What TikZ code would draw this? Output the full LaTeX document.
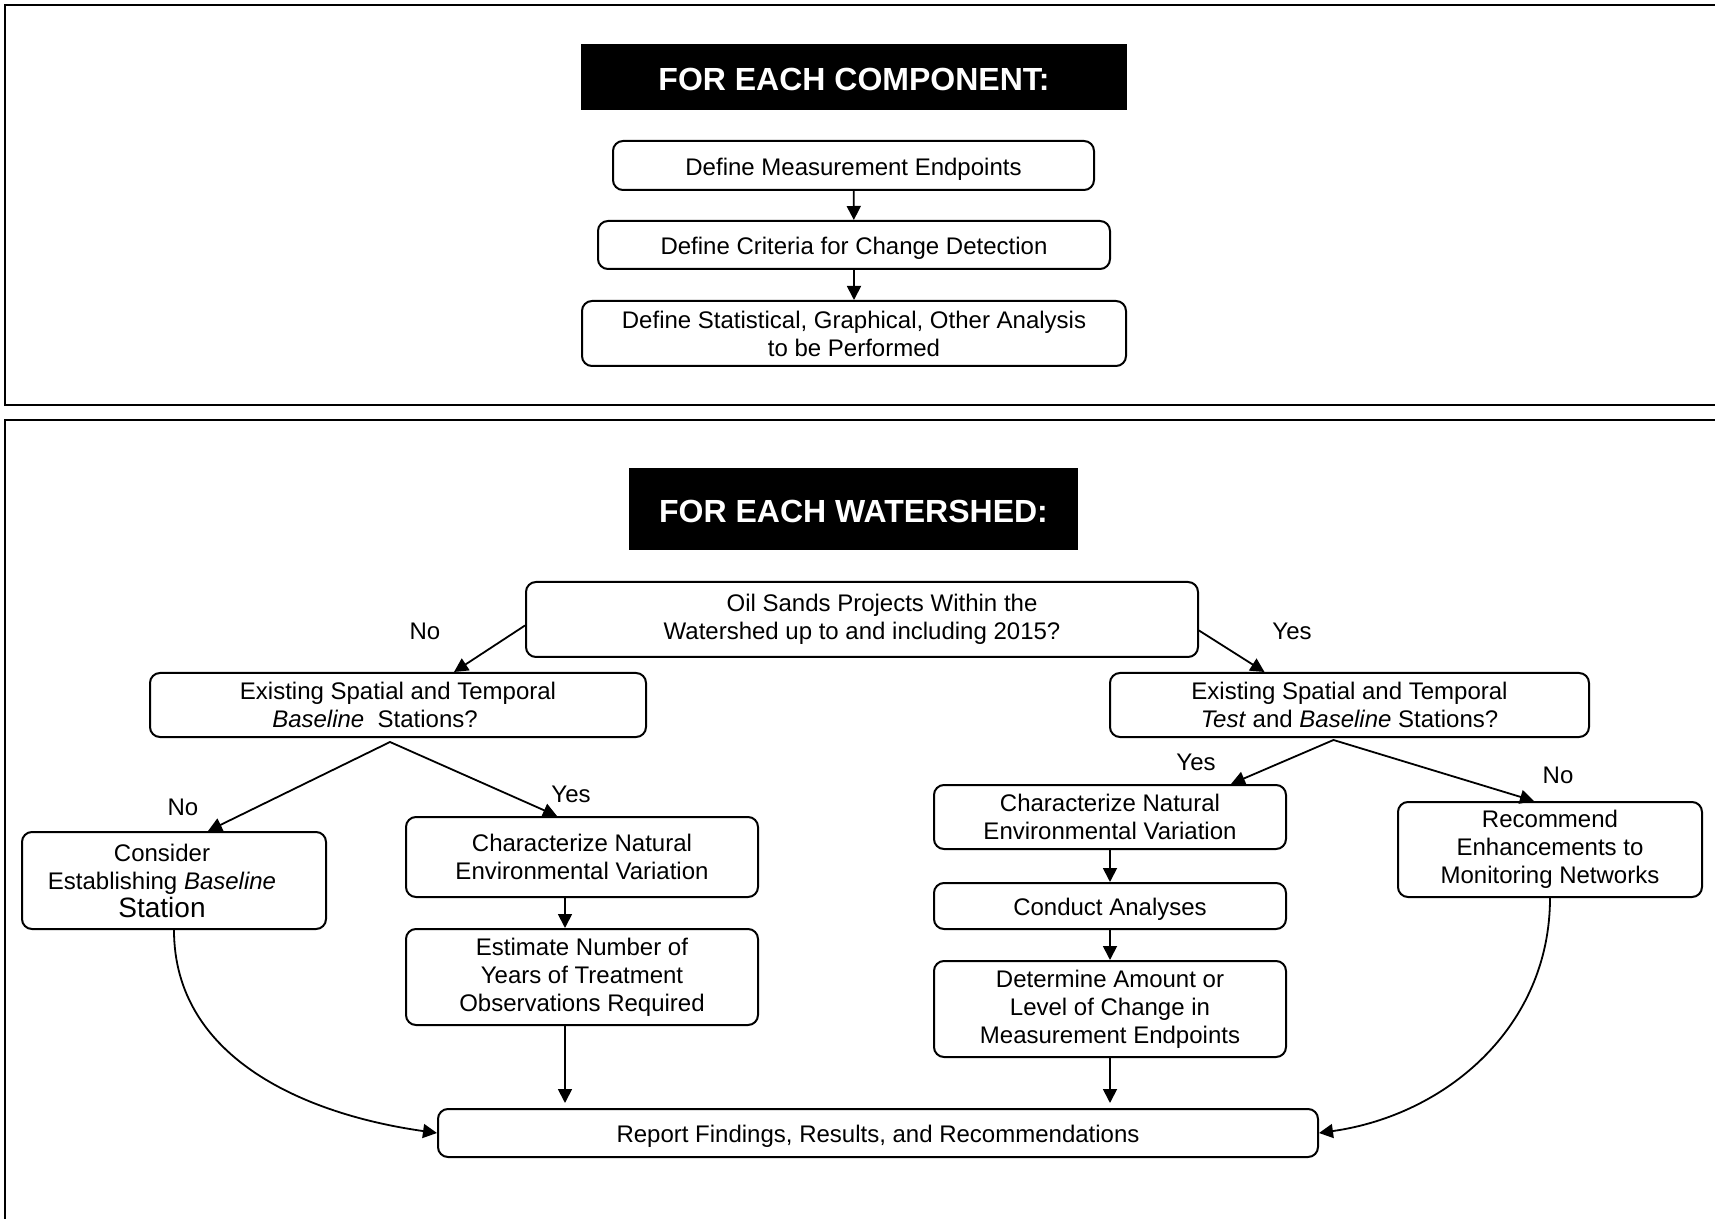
\documentclass[tikz,border=0pt]{standalone}
\usepackage{fontspec}
\setmainfont{Liberation Sans}
\usetikzlibrary{calc,arrows.meta}

\tikzset{
    stepbox/.style={draw, line width=1pt, rounded corners=5pt, align=center, inner sep=0pt, font=\fontsize{12}{14}\selectfont, execute at begin node={\rule{0pt}{12pt}}},
    banner/.style={fill=black, text=white, inner sep=0pt, font=\fontsize{16}{18}\selectfont\bfseries, execute at begin node={\rule{0pt}{13.5pt}}},
    flow/.style={line width=0.9pt, -{Triangle[length=7pt,width=7pt]}},
    fork/.style={line width=0.9pt, {Triangle[length=7pt,width=7pt]}-{Triangle[length=7pt,width=7pt]}},
    answer/.style={inner sep=0pt, font=\fontsize{12}{14}\selectfont},
}

\begin{document}
\begin{tikzpicture}[x=0.5pt, y=-0.5pt]
    \useasboundingbox (0,0) rectangle (1715,1219);
    % frames
    \draw[line width=1pt] (1716,5) -- (5,5) -- (5,405) -- (1716,405);
    \draw[line width=1pt] (1716,420) -- (5,420) -- (5,1220);

    % for each component
    \node[banner, minimum width=273pt, minimum height=33pt] (compTitle) at (854,77) {FOR EACH COMPONENT:};
    \node[stepbox, minimum width=240.5pt, minimum height=24.5pt] (endpts) at (853.5,165.5) {Define Measurement Endpoints};
    \node[stepbox, minimum width=256pt, minimum height=24pt] (criteria) at (854,245) {Define Criteria for Change Detection};
    \node[stepbox, minimum width=272pt, minimum height=32.5pt] (analysis) at (854,333.5) {Define Statistical, Graphical, Other Analysis\\to be Performed};
    \draw[flow] (endpts) -- (criteria);
    \draw[flow] (criteria) -- (analysis);

    % for each watershed
    \node[banner, minimum width=224.5pt, minimum height=41pt] (shedTitle) at (853.5,509) {FOR EACH WATERSHED:};
    \node[stepbox, minimum width=336pt, minimum height=37.5pt] (projects) at (862,619.5) {\hspace*{20pt}Oil Sands Projects Within the\\Watershed up to and including 2015?};
    \node[stepbox, minimum width=248pt, minimum height=32pt] (baseL) at (398,705) {Existing Spatial and Temporal\\\textit{Baseline}\ \ Stations?\hspace*{23pt}\mbox{}};
    \node[stepbox, minimum width=239.5pt, minimum height=32pt] (baseR) at (1349.5,705) {Existing Spatial and Temporal\\\textit{Test} and \textit{Baseline} Stations?};
    \node[stepbox, minimum width=152pt, minimum height=48.5pt] (consider) at (174,880.5) {Consider\hspace*{12pt}\mbox{}\\Establishing \textit{Baseline}\hspace*{12pt}\mbox{}\\{\fontsize{14}{14}\selectfont Station}\hspace*{12pt}\mbox{}};
    \node[stepbox, minimum width=176pt, minimum height=40pt] (charL) at (582,857) {Characterize Natural\\Environmental Variation};
    \node[stepbox, minimum width=176pt, minimum height=48pt] (years) at (582,977) {Estimate Number of\\Years of Treatment\\Observations Required};
    \node[stepbox, minimum width=176pt, minimum height=32pt] (charR) at (1110,817) {Characterize Natural\\Environmental Variation};
    \node[stepbox, minimum width=176pt, minimum height=23pt] (conduct) at (1110,906) {Conduct Analyses};
    \node[stepbox, minimum width=176pt, minimum height=48pt] (change) at (1110,1009) {Determine Amount or\\Level of Change in\\Measurement Endpoints};
    \node[stepbox, minimum width=152pt, minimum height=47.5pt] (recommend) at (1550,849.5) {Recommend\\Enhancements to\\Monitoring Networks};
    \node[stepbox, minimum width=440pt, minimum height=24pt] (report) at (878,1133) {Report Findings, Results, and Recommendations};

    \node[answer] (noA) at (425,631) {No};
    \node[answer] (yesA) at (1292,631) {Yes};
    \node[answer] (noB) at (183,807) {No};
    \node[answer] (yesB) at (571,794) {Yes};
    \node[answer] (yesC) at (1196,762) {Yes};
    \node[answer] (noC) at (1558,775) {No};

    \coordinate (forkL) at ($(baseL.south)+(-8,4)$);
    \coordinate (forkR) at ($(baseR.south)+(-16,2)$);
    \draw[flow] ($(projects.west)+(0,6)$) -- ($(baseL.north)+(56,0)$);
    \draw[flow] ($(projects.east)+(0,11)$) -- ($(baseR.north)+(-85,0)$);
    \draw[fork] ($(consider.north)+(34,0)$) -- (forkL) -- ($(charL.north)+(-25,0)$);
    \draw[fork] ($(charR.north)+(121,0)$) -- (forkR) -- ($(recommend.north)+(-16,0)$);

    \draw[flow] ($(charL.south)+(-17,0)$) -- ($(years.north)+(-17,0)$);
    \draw[flow] ($(years.south)+(-17,0)$) -- ($(report.north -| years.south)+(-17,-5)$);
    \draw[flow] (charR) -- (conduct);
    \draw[flow] (conduct) -- (change);
    \draw[flow] (change.south) -- ($(report.north -| change.south)+(0,-5)$);

    \draw[flow] (consider.south) to[out=-90, in=172] (report.west);
    \draw[flow] (recommend.south) to[out=-90, in=8] (report.east);
\end{tikzpicture}
\end{document}
